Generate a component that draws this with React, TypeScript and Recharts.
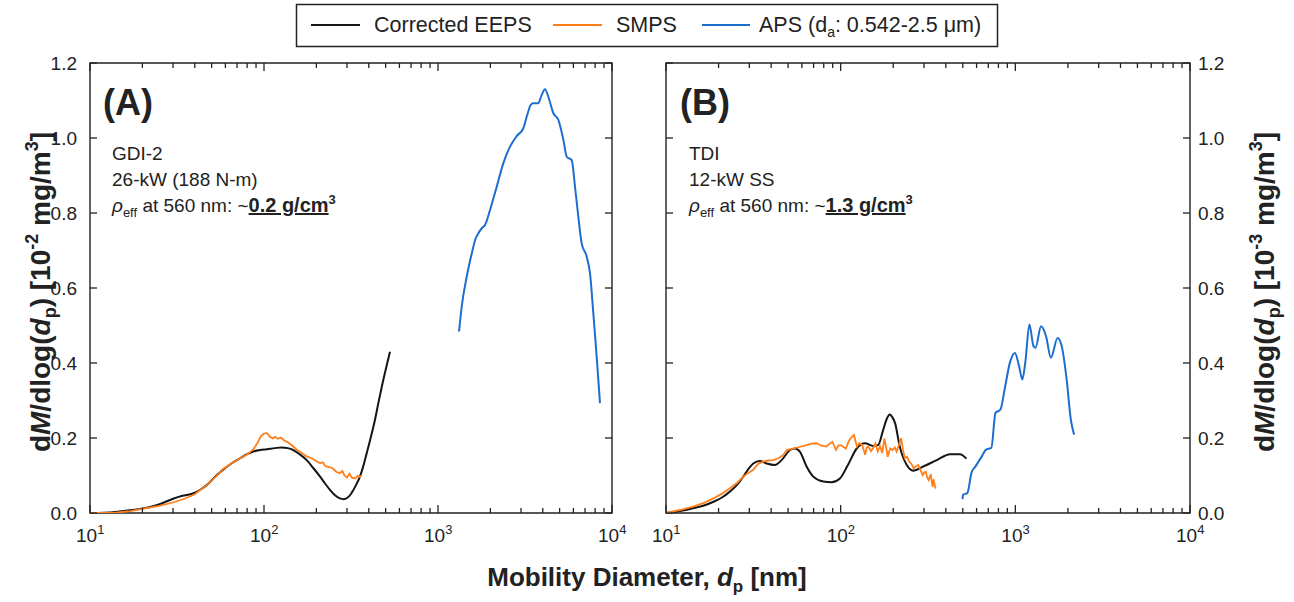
import React from "react";
import { LineChart, Line, XAxis, YAxis, ReferenceArea } from "recharts";

const FONT = "'Liberation Sans', Arial, Helvetica, sans-serif";
const INK = "#222";
const BLACK = "#151515";
const ORANGE = "#ff7f1a";
const BLUE = "#1c6dd0";

// axis ticks: decades plus log minor ticks
const decades = [10, 100, 1000];
const minorSteps = [1, 2, 3, 4, 5, 6, 7, 8, 9];
const xTicks = [...decades.flatMap((d) => minorSteps.map((m) => d * m)), 10000];
const xTickExponents = ["1", "2", "3", "4"];
const yTicks = [0, 0.2, 0.4, 0.6, 0.8, 1.0, 1.2];

// (A) GDI-2, [diameter nm, dM/dlog(dp)]
const eepsA: [number, number][] = [
  [10, 0], [12, 0.001], [14, 0.003], [16, 0.006], [18, 0.009], [20, 0.012],
  [23, 0.018], [26, 0.026], [30, 0.038], [34, 0.046], [39, 0.052], [43, 0.062],
  [47, 0.075], [52, 0.095], [58, 0.115], [65, 0.132], [73, 0.146], [80, 0.157],
  [87, 0.164], [95, 0.168], [104, 0.17], [115, 0.173], [126, 0.175], [137, 0.173],
  [147, 0.168], [160, 0.157], [176, 0.141], [192, 0.12], [210, 0.097], [225, 0.078],
  [240, 0.061], [255, 0.048], [273, 0.039], [287, 0.037], [300, 0.04], [313, 0.048],
  [326, 0.061], [340, 0.077], [356, 0.097], [372, 0.125], [389, 0.159], [410, 0.2],
  [435, 0.25], [455, 0.295], [477, 0.34], [505, 0.39], [530, 0.43],
];
const smpsA: [number, number][] = [
  [10, 0], [12, 0], [14, 0.001], [17, 0.005], [20, 0.011], [25, 0.019], [30, 0.028],
  [35, 0.038], [40, 0.05], [47, 0.075], [53, 0.097], [58, 0.117], [65, 0.132],
  [73, 0.146], [80, 0.156], [87, 0.17], [92, 0.188], [96, 0.205], [100, 0.212],
  [104, 0.213], [108, 0.204], [112, 0.199], [116, 0.203], [120, 0.198], [125, 0.201],
  [131, 0.193], [138, 0.188], [147, 0.178], [155, 0.168], [165, 0.16], [176, 0.151],
  [188, 0.146], [200, 0.138], [210, 0.133], [218, 0.135], [225, 0.125], [240, 0.122],
  [250, 0.118], [260, 0.11], [273, 0.106], [282, 0.112], [290, 0.1], [300, 0.095],
  [310, 0.105], [320, 0.094], [335, 0.092], [345, 0.099], [356, 0.096], [362, 0.1],
];
const apsA: [number, number][] = [
  [1321, 0.484], [1368, 0.55], [1462, 0.63], [1563, 0.692], [1640, 0.73], [1707, 0.746],
  [1790, 0.76], [1864, 0.768], [1991, 0.808], [2175, 0.87], [2374, 0.933], [2594, 0.977],
  [2833, 1.005], [3093, 1.026], [3250, 1.06], [3409, 1.088], [3530, 1.093], [3770, 1.093],
  [3945, 1.115], [4121, 1.13], [4306, 1.11], [4603, 1.066], [4920, 1.048], [5254, 0.995],
  [5495, 0.95], [5868, 0.941], [6129, 0.87], [6403, 0.79], [6693, 0.719], [7150, 0.684],
  [7476, 0.639], [7812, 0.532], [8164, 0.417], [8531, 0.293],
];

// (B) TDI
const eepsB: [number, number][] = [
  [10, 0], [12, 0.005], [14.3, 0.0125], [16.5, 0.02], [18.7, 0.03], [21, 0.042],
  [23.2, 0.057], [25.5, 0.075], [27.7, 0.097], [29.6, 0.117], [31.6, 0.132], [34.5, 0.139],
  [37.7, 0.132], [42, 0.128], [45.9, 0.141], [51.3, 0.168], [54.7, 0.172], [58.5, 0.163],
  [63.8, 0.124], [69.7, 0.097], [79.5, 0.084], [88.7, 0.082], [99, 0.092], [110, 0.128],
  [123.5, 0.172], [137.7, 0.186], [153.7, 0.179], [164, 0.181], [175, 0.221], [184, 0.252],
  [191, 0.263], [198, 0.255], [205, 0.239], [218, 0.177], [239, 0.128], [260, 0.113],
  [297, 0.124], [355, 0.141], [423, 0.157], [482, 0.157], [525, 0.145],
];
const smpsB: [number, number][] = [
  [10, 0], [12, 0.008], [14.3, 0.017], [16.5, 0.027], [18.7, 0.039], [21, 0.052],
  [23.2, 0.066], [25.5, 0.08], [27.7, 0.097], [29.6, 0.107], [31.6, 0.115], [33.5, 0.13],
  [35.9, 0.137], [38.5, 0.14], [41.1, 0.141], [44, 0.146], [47, 0.155], [49, 0.168],
  [51.5, 0.17], [53.6, 0.172], [58, 0.176], [63.8, 0.181], [68, 0.185], [72.8, 0.186],
  [77, 0.18], [82.8, 0.177], [86, 0.184], [89.8, 0.19], [94, 0.168], [97, 0.18],
  [100, 0.181], [104, 0.176], [107, 0.172], [111, 0.19], [114, 0.199], [119, 0.208],
  [124, 0.177], [128, 0.186], [133, 0.181], [138, 0.155], [141, 0.175], [144, 0.177],
  [149, 0.165], [153, 0.172], [158, 0.185], [163, 0.164], [168, 0.178], [173, 0.16],
  [178, 0.199], [182, 0.175], [186, 0.15], [192, 0.172], [198, 0.168], [204, 0.175],
  [209, 0.164], [215, 0.18], [222, 0.199], [227, 0.17], [233, 0.146], [240, 0.15],
  [247, 0.137], [255, 0.13], [262, 0.119], [270, 0.125], [278, 0.128], [286, 0.115],
  [295, 0.101], [301, 0.108], [307, 0.11], [313, 0.095], [319, 0.088], [324, 0.098],
  [328, 0.101], [332, 0.085], [336, 0.07], [340, 0.09], [345, 0.075], [350, 0.065],
];
const apsB: [number, number][] = [
  [498, 0.037], [503, 0.049], [531, 0.053], [561, 0.107], [593, 0.125], [643, 0.151],
  [679, 0.169], [729, 0.174], [770, 0.267], [822, 0.276], [868, 0.329], [931, 0.401],
  [995, 0.427], [1050, 0.392], [1097, 0.356], [1140, 0.401], [1204, 0.503], [1271, 0.445],
  [1306, 0.441], [1403, 0.498], [1498, 0.472], [1599, 0.414], [1745, 0.467], [1843, 0.445],
  [1967, 0.356], [2078, 0.249], [2170, 0.209],
];

const toRows = (pairs: [number, number][]) => pairs.map(([d, v]) => ({ d, v }));

function XTick(props: any) {
  const { x, y, payload, plotH } = props;
  const value = payload.value as number;
  const exp = Math.log10(value);
  const major = Math.abs(exp - Math.round(exp)) < 1e-6;
  const len = major ? 8 : 5;
  return (
    <g>
      <line x1={x} x2={x} y1={y} y2={y - len} stroke={INK} strokeWidth={1.3} />
      <line x1={x} x2={x} y1={y - plotH} y2={y - plotH + len} stroke={INK} strokeWidth={1.3} />
      {major && (
        <text x={x - 14} y={y + 29} fill={INK} fontSize={19} fontFamily={FONT}>
          10
          <tspan dy={-8} fontSize={13}>
            {xTickExponents[Math.round(exp) - 1]}
          </tspan>
        </text>
      )}
    </g>
  );
}

function YTick(props: any) {
  const { x, y, payload, plotW, side } = props;
  const xl = side === "left" ? x : x - plotW;
  const xr = xl + plotW;
  const label = (payload.value as number).toFixed(1);
  return (
    <g>
      <line x1={xl} x2={xl + 7} y1={y} y2={y} stroke={INK} strokeWidth={1.3} />
      <line x1={xr} x2={xr - 7} y1={y} y2={y} stroke={INK} strokeWidth={1.3} />
      {side === "left" ? (
        <text x={xl - 13} y={y + 7} textAnchor="end" fill={INK} fontSize={19} fontFamily={FONT}>
          {label}
        </text>
      ) : (
        <text x={xr + 8} y={y + 7} textAnchor="start" fill={INK} fontSize={19} fontFamily={FONT}>
          {label}
        </text>
      )}
    </g>
  );
}

type PanelProps = {
  left: number;
  width: number;
  margin: { top: number; right: number; bottom: number; left: number };
  side: "left" | "right";
  eeps: [number, number][];
  smps: [number, number][];
  aps: [number, number][];
};

// axes are 1px thick (a 0px axis is not drawn), so the margins leave room for that
function Panel({ left, width, margin, side, eeps, smps, aps }: PanelProps) {
  const plotW = width - margin.left - margin.right - 1;
  const plotH = 602 - margin.top - margin.bottom - 1;
  return (
    <div style={{ position: "absolute", left, top: 0 }}>
      <LineChart width={width} height={602} margin={margin}>
        <XAxis
          dataKey="d"
          type="number"
          scale="log"
          domain={[10, 10000]}
          allowDataOverflow
          ticks={xTicks}
          interval={0}
          height={1}
          tickSize={0}
          tickMargin={0}
          axisLine={false}
          tickLine={false}
          tick={(p: any) => <XTick {...p} plotH={plotH} />}
        />
        <YAxis
          type="number"
          orientation={side}
          domain={[0, 1.2]}
          allowDataOverflow
          ticks={yTicks}
          interval={0}
          width={1}
          tickSize={0}
          tickMargin={0}
          axisLine={false}
          tickLine={false}
          tick={(p: any) => <YTick {...p} plotW={plotW} side={side} />}
        />
        <ReferenceArea
          x1={10}
          x2={10000}
          y1={0}
          y2={1.2}
          fill="none"
          fillOpacity={0}
          stroke={INK}
          strokeWidth={1.4}
          ifOverflow="visible"
        />
        <Line data={toRows(eeps)} dataKey="v" type="monotone" stroke={BLACK} strokeWidth={2} dot={false} isAnimationActive={false} />
        <Line data={toRows(smps)} dataKey="v" type="linear" stroke={ORANGE} strokeWidth={1.8} dot={false} isAnimationActive={false} />
        <Line data={toRows(aps)} dataKey="v" type="monotone" stroke={BLUE} strokeWidth={2} dot={false} isAnimationActive={false} />
      </LineChart>
    </div>
  );
}

function YTitle({ x, exp }: { x: number; exp: string }) {
  return (
    <text
      transform={`translate(${x},292) rotate(-90)`}
      textAnchor="middle"
      fontSize={28}
      fontWeight="bold"
      fontFamily={FONT}
      fill={INK}
    >
      d<tspan fontStyle="italic">M</tspan>/dlog(<tspan fontStyle="italic">d</tspan>
      <tspan dy={6} fontSize={18}>p</tspan>
      <tspan dy={-6}>) [10</tspan>
      <tspan dy={-12} fontSize={18}>{exp}</tspan>
      <tspan dy={12}> mg/m</tspan>
      <tspan dy={-12} fontSize={18}>3</tspan>
      <tspan dy={12}>]</tspan>
    </text>
  );
}

function Notes({ x, tag, lines, density }: { x: number; tag: string; lines: string[]; density: string }) {
  return (
    <g fontFamily={FONT} fill={INK}>
      <text x={x - 9} y={115} fontSize={36} fontWeight="bold">{tag}</text>
      <text x={x} y={160} fontSize={19}>{lines[0]}</text>
      <text x={x} y={186} fontSize={19}>{lines[1]}</text>
      <text x={x} y={212} fontSize={19}>
        <tspan fontStyle="italic">ρ</tspan>
        <tspan dy={5} fontSize={13}>eff</tspan>
        <tspan dy={-5}> at 560 nm: ~</tspan>
        <tspan fontWeight="bold" fontSize={20} textDecoration="underline">{density}</tspan>
        <tspan dy={-8} fontSize={13} fontWeight="bold">3</tspan>
      </text>
    </g>
  );
}

export default function App() {
  return (
    <div style={{ position: "absolute", left: 0, top: 0, width: 1294, height: 602, background: "#fff" }}>
      <Panel left={0} width={647} margin={{ top: 63, right: 35, bottom: 88, left: 89 }} side="left" eeps={eepsA} smps={smpsA} aps={apsA} />
      <Panel left={647} width={647} margin={{ top: 63, right: 103, bottom: 88, left: 19 }} side="right" eeps={eepsB} smps={smpsB} aps={apsB} />
      <svg width={1294} height={602} style={{ position: "absolute", left: 0, top: 0, pointerEvents: "none" }}>
        <g fontFamily={FONT} fontSize={21.5} fill={INK}>
          <rect x={296.5} y={4.5} width={701} height={42} fill="none" stroke={INK} strokeWidth={1.5} />
          <line x1={311} x2={360} y1={25} y2={25} stroke={BLACK} strokeWidth={2} />
          <text x={374} y={32}>Corrected EEPS</text>
          <line x1={553} x2={602} y1={25} y2={25} stroke={ORANGE} strokeWidth={2} />
          <text x={616} y={32}>SMPS</text>
          <line x1={702} x2={750} y1={25} y2={25} stroke={BLUE} strokeWidth={2} />
          <text x={759} y={32}>
            APS (d<tspan dy={5} fontSize={14}>a</tspan><tspan dy={-5}>: 0.542-2.5 μm)</tspan>
          </text>
        </g>
        <Notes x={112} tag="(A)" lines={["GDI-2", "26-kW (188 N-m)"]} density="0.2 g/cm" />
        <Notes x={689} tag="(B)" lines={["TDI", "12-kW SS"]} density="1.3 g/cm" />
        <YTitle x={50} exp="-2" />
        <YTitle x={1274} exp="-3" />
        <text x={647} y={586} textAnchor="middle" fontSize={26} fontWeight="bold" fontFamily={FONT} fill={INK}>
          Mobility Diameter, <tspan fontStyle="italic">d</tspan>
          <tspan dy={6} fontSize={17}>p</tspan>
          <tspan dy={-6}> [nm]</tspan>
        </text>
      </svg>
    </div>
  );
}
